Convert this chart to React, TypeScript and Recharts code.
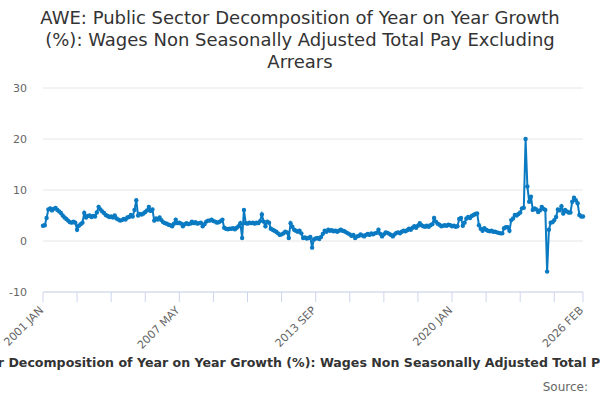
import { LineChart, Line, XAxis, YAxis, CartesianGrid } from "recharts"

// monthly values, 2001 JAN .. 2026 FEB
const startYear = 2001
const monthNames = ["JAN", "FEB", "MAR", "APR", "MAY", "JUN", "JUL", "AUG", "SEP", "OCT", "NOV", "DEC"]

const growth = [
  3.0, 3.1, 4.5, 6.2, 6.4, 6.0, 6.3, 6.5, 6.1, 5.8, 5.5, 5.0, // 2001
  4.6, 4.3, 4.0, 3.7, 3.6, 3.8, 3.6, 2.2, 3.0, 3.3, 3.6, 5.5, // 2002
  4.6, 4.9, 5.0, 4.7, 4.9, 4.8, 5.6, 6.7, 6.2, 5.8, 5.5, 5.1, // 2003
  4.9, 4.7, 4.8, 4.6, 5.0, 4.4, 4.2, 4.0, 4.1, 4.3, 4.2, 4.6, // 2004
  4.7, 5.1, 4.8, 6.1, 8.0, 5.0, 5.3, 5.2, 5.4, 5.7, 6.0, 6.7, // 2005
  5.9, 6.2, 4.0, 4.4, 4.2, 4.6, 4.1, 3.7, 3.5, 3.4, 3.2, 3.1, // 2006
  2.9, 3.4, 4.2, 3.5, 3.6, 3.4, 2.9, 3.3, 3.5, 3.3, 3.4, 3.8, // 2007
  3.5, 3.7, 3.4, 3.5, 3.6, 2.9, 3.3, 3.8, 4.0, 4.0, 4.2, 3.9, // 2008
  3.8, 3.6, 3.7, 3.9, 4.2, 2.6, 2.4, 2.3, 2.4, 2.4, 2.5, 2.3, // 2009
  2.6, 2.9, 3.5, 0.6, 6.1, 3.5, 3.4, 3.6, 3.5, 3.6, 3.4, 3.6, // 2010
  3.5, 3.9, 5.2, 3.8, 2.9, 3.8, 3.6, 2.4, 2.2, 2.0, 1.8, 1.5, // 2011
  1.2, 1.3, 1.5, 1.8, 1.7, 0.6, 3.5, 2.8, 2.2, 2.0, 1.8, 2.0, // 2012
  1.5, 0.6, 0.7, 0.5, 0.6, 0.8, -1.3, 0.3, 0.5, 0.6, 0.4, 0.8, // 2013
  1.4, 2.0, 1.8, 2.2, 2.0, 2.1, 1.9, 2.0, 1.8, 2.0, 2.2, 2.0, // 2014
  1.9, 1.7, 1.5, 1.3, 1.0, 1.2, 0.6, 0.9, 1.0, 1.3, 1.1, 0.9, // 2015
  1.2, 1.4, 1.2, 1.5, 1.3, 1.5, 1.6, 2.2, 1.4, 0.9, 1.3, 1.7, // 2016
  1.6, 1.4, 1.2, 0.9, 1.3, 1.6, 1.7, 1.5, 1.8, 2.0, 1.9, 2.1, // 2017
  2.4, 2.2, 2.6, 2.9, 2.6, 3.0, 3.5, 3.1, 2.9, 2.8, 3.0, 2.8, // 2018
  3.1, 3.3, 4.5, 3.8, 3.4, 3.2, 2.9, 3.0, 3.1, 3.0, 3.2, 3.1, // 2019
  2.9, 3.0, 2.8, 2.9, 4.3, 4.5, 3.0, 3.6, 4.4, 4.7, 4.5, 4.9, // 2020
  5.1, 5.3, 5.4, 3.1, 2.4, 2.0, 2.5, 2.2, 2.0, 1.9, 2.0, 1.8, // 2021
  1.8, 1.7, 1.6, 1.5, 1.5, 2.5, 2.7, 2.7, 2.0, 4.1, 4.4, 5.1, // 2022
  5.0, 5.3, 5.6, 6.4, 6.5, 20.0, 10.7, 7.7, 8.7, 6.1, 6.4, 6.2, // 2023
  5.7, 6.0, 6.7, 6.3, 6.1, -6.0, 2.2, 3.6, 3.7, 4.1, 4.7, 6.2, // 2024
  6.0, 6.8, 5.4, 6.1, 5.8, 5.6, 5.6, 7.7, 8.5, 8.0, 7.4, 5.1, // 2025
  4.8, 4.8, // 2026
]

const yTicks = [-10, 0, 10, 20, 30]
const xTickIndex = [0, 19, 38, 57, 76, 95, 114, 133, 152, 171, 190, 209, 228, 247, 266, 285, 301]
const xLabelIndex = [0, 76, 152, 228, 301]
const xLabels = ["2001 JAN", "2007 MAY", "2013 SEP", "2020 JAN", "2026 FEB"]

const titleLines = [
  "AWE: Public Sector Decomposition of Year on Year Growth",
  "(%): Wages Non Seasonally Adjusted Total Pay Excluding",
  "Arrears",
]
const seriesName =
  "AWE: Public Sector Decomposition of Year on Year Growth (%): Wages Non Seasonally Adjusted Total Pay Excluding Arrears"

const data = growth.map((v, i) => ({
  i,
  month: `${startYear + Math.floor(i / 12)} ${monthNames[i % 12]}`,
  v,
}))

const blue = "#0a7ac2"
const font = "'DejaVu Sans', sans-serif"

const XTick = (props: any) => {
  const { x, y, payload } = props
  const k = xLabelIndex.indexOf(payload.value)
  if (k < 0) return <g />
  const ax = x + 1
  const ay = y + 7
  return (
    <text
      x={ax}
      y={ay}
      transform={`rotate(-45 ${ax} ${ay})`}
      textAnchor="end"
      fill="#666"
      fontSize={11}
    >
      {xLabels[k]}
    </text>
  )
}

export default function App() {
  return (
    <div
      style={{
        position: "absolute",
        left: 0,
        top: 0,
        width: 600,
        height: 400,
        overflow: "hidden",
        background: "#fff",
        fontFamily: font,
      }}
    >
      <div
        style={{
          position: "absolute",
          top: 7,
          left: 0,
          width: 600,
          textAlign: "center",
          fontSize: 18,
          lineHeight: "22px",
          color: "#333",
        }}
      >
        {titleLines.map((t) => (
          <div key={t}>{t}</div>
        ))}
      </div>

      <LineChart
        width={600}
        height={400}
        data={data}
        margin={{ top: 88, right: 17, left: 0, bottom: 48 }}
        style={{ fontFamily: font }}
      >
        <CartesianGrid vertical={false} stroke="#e6e6e6" />
        <YAxis
          domain={[-10, 30]}
          ticks={yTicks}
          width={43}
          axisLine={false}
          tickLine={false}
          tickMargin={10}
          tick={{ fill: "#666", fontSize: 11 }}
        />
        <XAxis
          dataKey="i"
          type="number"
          domain={[0, 301]}
          ticks={xTickIndex}
          interval={0}
          height={60}
          tickSize={10}
          axisLine={{ stroke: "#ccd6eb" }}
          tickLine={{ stroke: "#ccd6eb" }}
          tick={<XTick />}
        />
        <Line
          type="linear"
          dataKey="v"
          name={seriesName}
          stroke={blue}
          strokeWidth={2}
          dot={{ r: 2.2, fill: blue, stroke: blue, strokeWidth: 0 }}
          activeDot={false}
          isAnimationActive={false}
        />
      </LineChart>

      <div
        style={{
          position: "absolute",
          top: 355,
          left: 308 - 500,
          width: 1000,
          textAlign: "center",
          whiteSpace: "nowrap",
          fontSize: 12.6,
          fontWeight: "bold",
          color: "#333",
        }}
      >
        {seriesName}
      </div>
      <div
        style={{
          position: "absolute",
          top: 380,
          right: 12,
          fontSize: 12,
          color: "#666",
        }}
      >
        Source:
      </div>
    </div>
  )
}
